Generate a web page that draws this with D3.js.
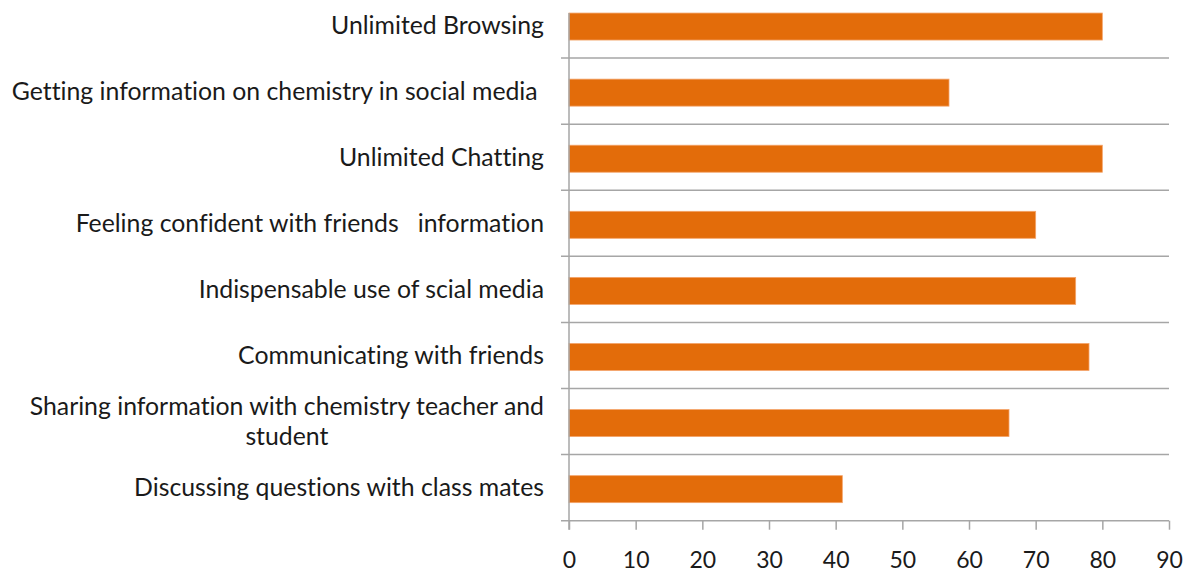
<!DOCTYPE html>
<html>
<head>
<meta charset="utf-8">
<script src="https://cdn.jsdelivr.net/npm/d3@7"></script>
<style>
  html, body { margin: 0; padding: 0; background: #fff; }
  svg { display: block; }
  text { font-family: Lato, "Open Sans", sans-serif; fill: #1a1a1a; font-variant-ligatures: none; }
</style>
</head>
<body>
<svg id="chart" width="1183" height="573"></svg>
<script>
// Survey responses: uses of social media by chemistry students (percent)
const categories = [
  "Unlimited Browsing",
  "Getting information on chemistry in social media ",
  "Unlimited Chatting",
  "Feeling confident with friends   information",
  "Indispensable use of scial media",
  "Communicating with friends",
  "Sharing information with chemistry teacher and\nstudent",
  "Discussing questions with class mates"
];
const values = [80, 57, 80, 70, 76, 78, 66, 41];
const xTicks = [0, 10, 20, 30, 40, 50, 60, 70, 80, 90];

const svg = d3.select("#chart");
const plotLeft = 569, plotRight = 1169, plotTop = -8, plotBottom = 520.7;
const barH = 27;
const gridColor = "#a6a6a6";
const barFill = "#e36c0a";
const barStroke = "#f4a46a";
const fontSize = 24.8;

const x = d3.scaleLinear().domain([0, 90]).range([plotLeft, plotRight]);
const y = d3.scaleBand().domain(categories).range([plotTop, plotBottom]).padding(0);
const step = y.step();

// category separators (horizontal grid)
svg.append("g")
  .selectAll("line")
  .data(categories.slice(1))
  .join("line")
  .attr("x1", plotLeft - 8).attr("x2", plotRight)
  .attr("y1", d => y(d)).attr("y2", d => y(d))
  .attr("stroke", gridColor).attr("stroke-width", 1.5);

// bars
svg.append("g")
  .selectAll("rect")
  .data(categories)
  .join("rect")
  .attr("x", x(0))
  .attr("y", d => y(d) + (step - barH) / 2 + 1.5)
  .attr("width", (d, i) => x(values[i]) - x(0))
  .attr("height", barH)
  .attr("fill", barFill)
  .attr("stroke", barStroke)
  .attr("stroke-width", 0.8);

// vertical axis line
svg.append("line")
  .attr("x1", plotLeft).attr("x2", plotLeft)
  .attr("y1", y(categories[0]) + (step - barH) / 2 + 1.5).attr("y2", plotBottom + 9)
  .attr("stroke", gridColor).attr("stroke-width", 1.5);

// bottom axis
const xAxis = svg.append("g")
  .attr("transform", `translate(0,${plotBottom})`)
  .call(d3.axisBottom(x).tickValues(xTicks).tickSize(9).tickPadding(22).tickFormat(d3.format("d")));
xAxis.select(".domain").attr("stroke", gridColor).attr("stroke-width", 1.5)
  .attr("d", `M${plotLeft - 8},0H${plotRight}`);
xAxis.selectAll(".tick line").attr("stroke", gridColor).attr("stroke-width", 1.5);
xAxis.selectAll(".tick text")
  .style("font-family", "Lato, 'Open Sans', sans-serif")
  .attr("font-size", 23)
  .attr("fill", "#1a1a1a");

// category labels, right aligned; wrapped labels centre their lines
const labelRight = 544;
const lineH = 30;
const labels = svg.append("g");
categories.forEach(c => {
  const lines = c.split("\n");
  const cy = y(c) + step / 2;
  const g = labels.append("g");
  const texts = lines.map((ln, j) => g.append("text")
    .attr("y", cy + (j - (lines.length - 1) / 2) * lineH)
    .attr("dy", "0.35em")
    .attr("font-size", fontSize)
    .style("white-space", "pre")
    .text(ln));
  if (lines.length === 1) {
    texts[0].attr("x", labelRight).attr("text-anchor", "end");
  } else {
    const w = d3.max(texts, t => t.node().getComputedTextLength());
    texts.forEach(t => t.attr("x", labelRight - w / 2).attr("text-anchor", "middle"));
  }
});
</script>
</body>
</html>
